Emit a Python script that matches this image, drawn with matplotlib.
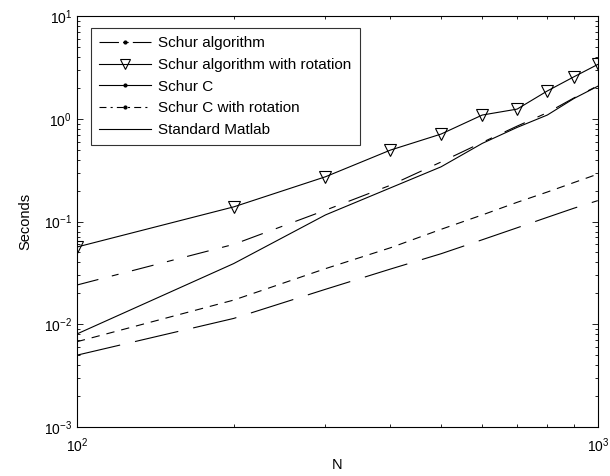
import numpy as np
import matplotlib
matplotlib.use("Agg")
import matplotlib.pyplot as plt
from matplotlib.lines import Line2D
from matplotlib.ticker import NullFormatter

plt.rcParams['font.family'] = ['Liberation Sans', 'DejaVu Sans']
plt.rcParams['mathtext.default'] = 'regular'
plt.rcParams['lines.scale_dashes'] = False

# problem sizes
N = [100, 200, 300, 400, 500, 600, 700, 800, 900, 1000]

# run times in seconds
schur_alg = [0.0241, 0.060, 0.129, 0.226, 0.38, 0.59, 0.85, 1.15, 1.60, 2.10]
schur_alg_rot = [0.0565, 0.139, 0.273, 0.497, 0.711, 1.09, 1.245, 1.87, 2.57, 3.39]
schur_c = [0.0050, 0.0114, 0.0219, 0.0345, 0.0486, 0.0665, 0.087, 0.110, 0.135, 0.160]
schur_c_rot = [0.00676, 0.0172, 0.0348, 0.0556, 0.084, 0.116, 0.154, 0.194, 0.240, 0.290]
std_matlab = [0.00804, 0.039, 0.116, 0.213, 0.341, 0.577, 0.826, 1.09, 1.58, 2.08]

labels = ['Schur algorithm', 'Schur algorithm with rotation', 'Schur C',
          'Schur C with rotation', 'Standard Matlab']

fig = plt.figure(figsize=(6.1, 4.76), dpi=100)
ax = fig.add_axes([0.126, 0.103, 0.854, 0.863])

lw = 0.8
ax.plot(N, schur_alg, color='k', lw=lw, dashes=(16, 10, 5, 10))
ax.plot(N, schur_alg_rot, color='k', lw=lw, marker='v', ms=8,
        mfc='none', mec='k', mew=0.8)
ax.plot(N, schur_c, color='k', lw=lw, dashes=(32, 11))
ax.plot(N, schur_c_rot, color='k', lw=lw, dashes=(6, 5))
ax.plot(N, std_matlab, color='k', lw=lw)

ax.set_xscale('log')
ax.set_yscale('log')
ax.set_xlim(100, 1000)
ax.set_ylim(1e-3, 1e1)
ax.xaxis.set_minor_formatter(NullFormatter())

ax.tick_params(which='both', direction='in', top=True, right=True,
               labelsize=10, width=0.6)
ax.tick_params(which='major', length=4)
ax.tick_params(which='minor', length=2.5)
ax.tick_params(axis='x', pad=7)
for s in ax.spines.values():
    s.set_linewidth(0.8)

ax.set_xlabel('N', fontsize=10.5, labelpad=2)
ax.set_ylabel('Seconds', fontsize=10.5, labelpad=8)

# legend entries drawn the way the original legend shows them
handles = [
    Line2D([], [], color='k', lw=lw, dashes=(14, 3, 4, 3), marker='.', ms=4),
    Line2D([], [], color='k', lw=lw, marker='v', ms=7, mfc='none', mec='k', mew=0.8),
    Line2D([], [], color='k', lw=lw, marker='.', ms=4),
    Line2D([], [], color='k', lw=lw, dashes=(5, 3, 1.5, 3), marker='.', ms=4),
    Line2D([], [], color='k', lw=lw),
]
leg = ax.legend(handles, labels, loc='upper left', bbox_to_anchor=(0.027, 0.971),
                fontsize=11, frameon=True, fancybox=False, edgecolor='k',
                borderaxespad=0, handlelength=3.4, labelspacing=0.5,
                borderpad=0.55, handletextpad=0.45)
leg.get_frame().set_linewidth(0.8)

fig.savefig('out.png', dpi=100)
